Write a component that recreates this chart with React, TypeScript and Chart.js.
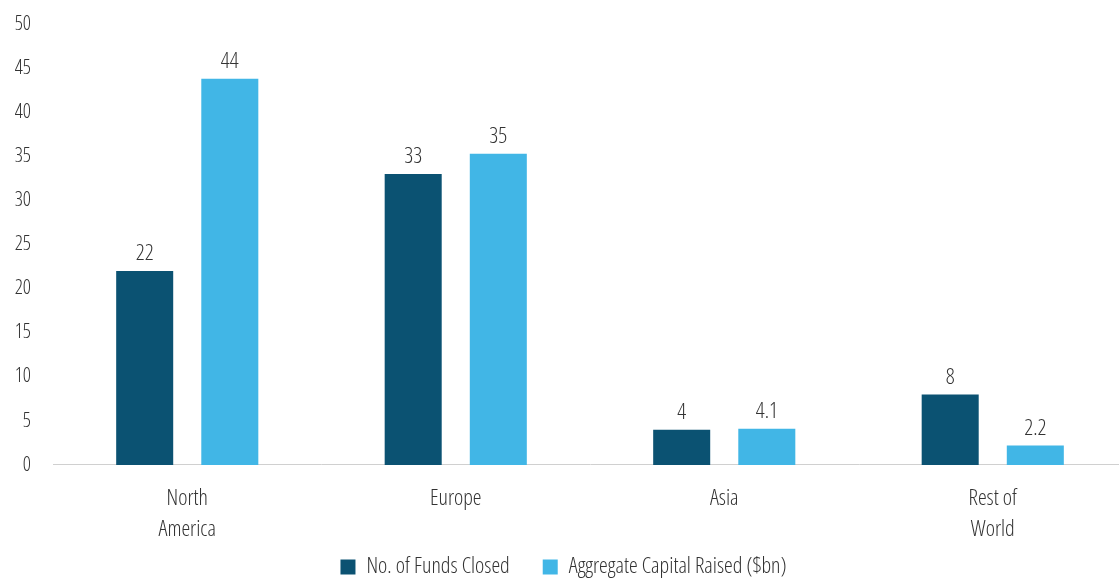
import React, { useEffect, useRef } from "react";
import { Chart, registerables } from "chart.js";

Chart.register(...registerables);

const categories: string[][] = [["North", "America"], ["Europe"], ["Asia"], ["Rest of", "World"]];
const fundsClosed: number[] = [22, 33, 4, 8];
const capitalRaised: number[] = [43.8, 35.3, 4.1, 2.2];
const seriesNames: string[] = ["No. of Funds Closed", "Aggregate Capital Raised ($bn)"];
const yTicks: number[] = [0, 5, 10, 15, 20, 25, 30, 35, 40, 45, 50];

const FONT_FAMILY = "'Open Sans', 'Liberation Sans Narrow', sans-serif";
const WEIGHT = "condensed 300";
const TEXT = "#333333";

const fmt = (v: number) => (v >= 10 ? String(Math.round(v)) : String(v));

const valueLabels = {
  id: "valueLabels",
  afterDatasetsDraw(chart: any) {
    const ctx = chart.ctx;
    ctx.save();
    ctx.font = `${WEIGHT} 22px ${FONT_FAMILY}`;
    ctx.fillStyle = TEXT;
    ctx.textAlign = "center";
    ctx.textBaseline = "bottom";
    chart.data.datasets.forEach((ds: any, i: number) => {
      const meta = chart.getDatasetMeta(i);
      meta.data.forEach((bar: any, j: number) => {
        ctx.fillText(fmt(ds.data[j]), bar.x, bar.y - 6);
      });
    });
    ctx.restore();
  },
};

export default function App() {
  const ref = useRef<HTMLCanvasElement>(null);
  useEffect(() => {
    document.body.style.margin = "0";
    document.body.style.overflow = "hidden";
    const font = { family: FONT_FAMILY, size: 20, weight: WEIGHT as any };
    const chart = new Chart(ref.current!, {
      type: "bar",
      data: {
        labels: categories,
        datasets: [
          { label: seriesNames[0], data: fundsClosed, backgroundColor: "#0B5272", borderWidth: 0 },
          { label: seriesNames[1], data: capitalRaised, backgroundColor: "#41B6E6", borderWidth: 0 },
        ],
      },
      options: {
        animation: false,
        responsive: false,
        layout: { padding: { top: 0, bottom: -6, right: 0 } },
        datasets: { bar: { categoryPercentage: 0.634, barPercentage: 0.67 } },
        scales: {
          x: {
            afterFit: (s: any) => {
              s.height -= 40;
              s._computeLabelArea = () => undefined;
            },
            grid: { display: false, drawTicks: false },
            border: { display: true, color: "#d0d0d0", width: 1 },
            ticks: {
              color: TEXT,
              padding: 18,
              font: { ...font, size: 22, lineHeight: 1.41 },
            },
          },
          y: {
            min: 0,
            max: 50,
            afterBuildTicks: (s: any) => {
              s.ticks = yTicks.map((v) => ({ value: v }));
            },
            afterFit: (s: any) => {
              s.width = 53;
            },
            grid: { display: false, drawTicks: false },
            border: { display: false },
            ticks: {
              color: TEXT,
              padding: 22,
              font,
            },
          },
        },
        plugins: {
          legend: {
            position: "bottom",
            labels: {
              color: TEXT,
              boxWidth: 15,
              boxHeight: 15,
              padding: 33,
              font: { ...font, size: 22 },
            },
          },
          tooltip: { enabled: false },
        },
      },
      plugins: [valueLabels],
    });
    return () => chart.destroy();
  }, []);
  return (
    <canvas
      ref={ref}
      width={1127}
      height={592}
      style={{ display: "block", marginTop: -10 }}
    />
  );
}
